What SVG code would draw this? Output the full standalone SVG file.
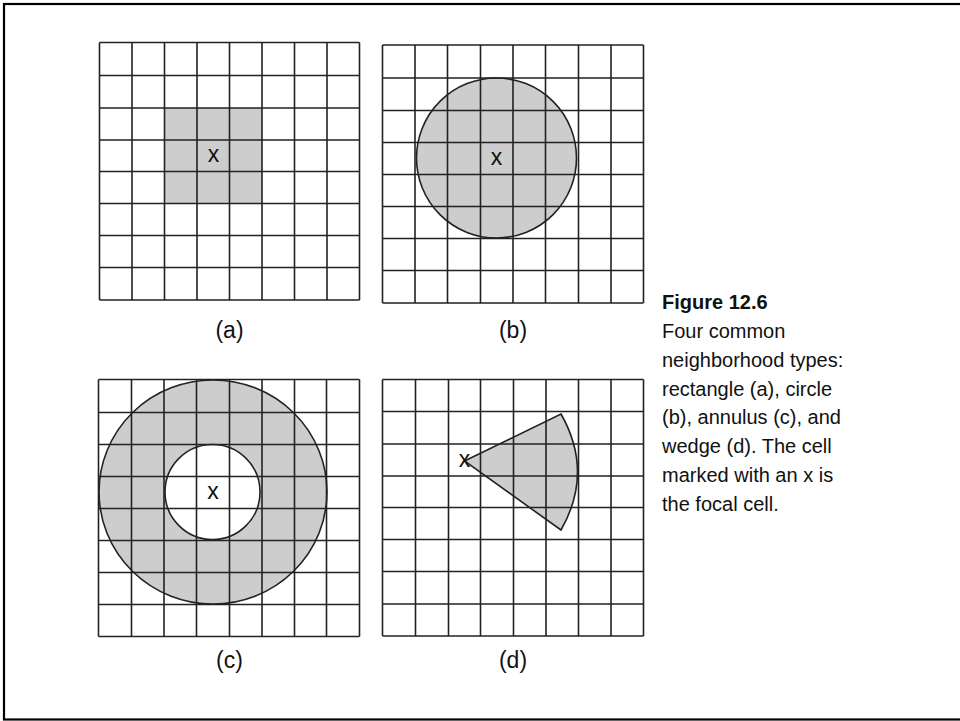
<svg xmlns="http://www.w3.org/2000/svg" width="960" height="721" viewBox="0 0 960 721">
<style>
.grid{fill:none;stroke:#222;stroke-width:1.6}
.shade{fill:#cdcdcd}
.lbl{font-family:"Liberation Sans",Arial,sans-serif;font-size:23px;fill:#111;text-anchor:middle}
.mark{font-family:"Liberation Sans",Arial,sans-serif;font-size:23px;fill:#111;text-anchor:middle}
.cap{font-family:"Liberation Sans",Arial,sans-serif;font-size:20px;fill:#111}
</style>
<rect x="0" y="0" width="960" height="721" fill="#fff"/>
<rect x="4" y="4" width="1000" height="715.5" fill="none" stroke="#000" stroke-width="2.2"/>

<g id="panel-a">
<rect class="shade" x="164.5" y="108" width="97.5" height="95.5"/>
<path class="grid" d="M99.5,42.5V300M132,42.5V300M164.5,42.5V300M197,42.5V300M229.5,42.5V300M262,42.5V300M294.5,42.5V300M327,42.5V300M359.5,42.5V300M99.5,42.5H359.5M99.5,75.5H359.5M99.5,108H359.5M99.5,140H359.5M99.5,171.5H359.5M99.5,203.5H359.5M99.5,235.5H359.5M99.5,267.5H359.5M99.5,300H359.5"/>
<text class="mark" x="213.5" y="162">x</text>
<text class="lbl" x="229.5" y="338">(a)</text>
</g>

<g id="panel-b">
<circle class="shade" cx="496.5" cy="158" r="80"/>
<path class="grid" d="M382.5,45V303M415,45V303M447.5,45V303M480.5,45V303M513,45V303M545.5,45V303M578.5,45V303M611,45V303M643.5,45V303M382.5,45H643.5M382.5,78H643.5M382.5,110.5H643.5M382.5,142.5H643.5M382.5,174.5H643.5M382.5,206.5H643.5M382.5,238.5H643.5M382.5,270.5H643.5M382.5,303H643.5"/>
<circle cx="496.5" cy="158" r="80" fill="none" stroke="#222" stroke-width="1.6"/>
<text class="mark" x="496.5" y="164.5">x</text>
<text class="lbl" x="513" y="338">(b)</text>
</g>

<g id="panel-c">
<path class="shade" fill-rule="evenodd" d="M99,492a114,112 0 1,0 228,0a114,112 0 1,0 -228,0ZM165,492a47.5,47.5 0 1,0 95,0a47.5,47.5 0 1,0 -95,0Z"/>
<path class="grid" d="M98.5,379.5V636.5M131.5,379.5V636.5M164,379.5V636.5M196.5,379.5V636.5M229.5,379.5V636.5M262,379.5V636.5M294.5,379.5V636.5M326.5,379.5V636.5M359.5,379.5V636.5M98.5,379.5H359.5M98.5,412.5H359.5M98.5,444.5H359.5M98.5,476.5H359.5M98.5,508.5H359.5M98.5,540.5H359.5M98.5,572.5H359.5M98.5,604.5H359.5M98.5,636.5H359.5"/>
<ellipse cx="213" cy="492" rx="114" ry="112" fill="none" stroke="#222" stroke-width="1.6"/>
<circle cx="212.5" cy="492" r="47.5" fill="none" stroke="#222" stroke-width="1.6"/>
<text class="mark" x="213" y="499">x</text>
<text class="lbl" x="229.5" y="668">(c)</text>
</g>

<g id="panel-d">
<path class="shade" d="M464.5,461L561,414Q594,472 561,530Z"/>
<path class="grid" d="M382.5,379.5V636M415.5,379.5V636M448.5,379.5V636M480.5,379.5V636M513.5,379.5V636M546,379.5V636M578.5,379.5V636M611,379.5V636M643.5,379.5V636M382.5,379.5H643.5M382.5,411.5H643.5M382.5,444H643.5M382.5,476H643.5M382.5,507.5H643.5M382.5,539.5H643.5M382.5,571.5H643.5M382.5,604H643.5M382.5,636H643.5"/>
<path d="M464.5,461L561,414Q594,472 561,530Z" fill="none" stroke="#222" stroke-width="1.6"/>
<text class="mark" x="464.5" y="467">x</text>
<text class="lbl" x="513" y="668">(d)</text>
</g>

<g id="caption">
<text class="cap" x="662" y="309" font-weight="bold">Figure 12.6</text>
<text class="cap" x="662" y="338.3">Four common</text>
<text class="cap" x="662" y="367">neighborhood types:</text>
<text class="cap" x="662" y="395.7">rectangle (a), circle</text>
<text class="cap" x="662" y="424.4">(b), annulus (c), and</text>
<text class="cap" x="662" y="453.2">wedge (d). The cell</text>
<text class="cap" x="662" y="482">marked with an x is</text>
<text class="cap" x="662" y="510.8">the focal cell.</text>
</g>
</svg>
